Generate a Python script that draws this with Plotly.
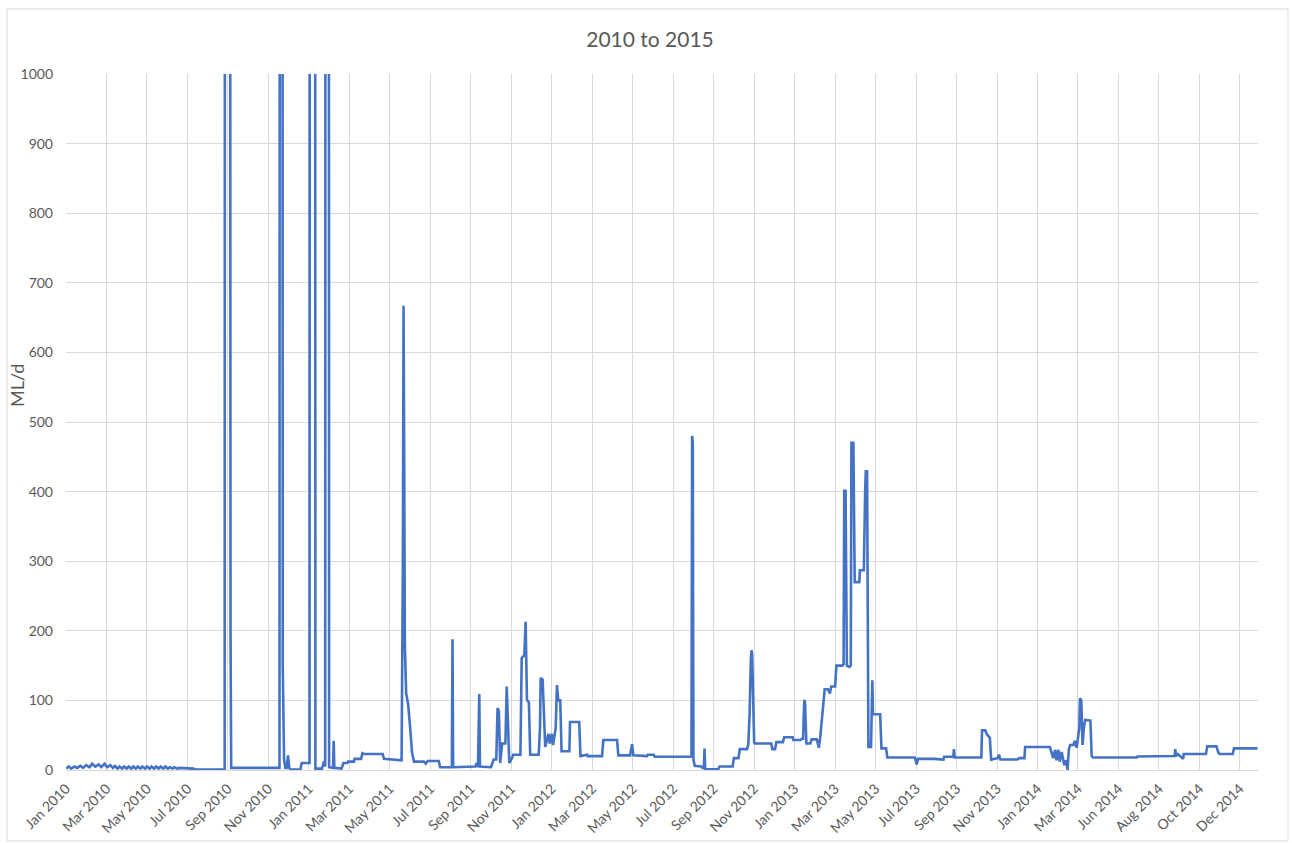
import plotly.graph_objects as go

# Daily flow record (ML/d), stored as the dates where the trace changes.
# Flood peaks above the 1000 ML/d axis limit run off the top of the chart.
dates_2010 = [
    "2010-01-01", "2010-01-05", "2010-01-09", "2010-01-14", "2010-01-18", "2010-01-23",
    "2010-01-27", "2010-02-01", "2010-02-06", "2010-02-10", "2010-02-15", "2010-02-20",
    "2010-02-24", "2010-03-01", "2010-03-05", "2010-03-10", "2010-03-14", "2010-03-17",
    "2010-03-21", "2010-03-24", "2010-03-28", "2010-03-31", "2010-04-04", "2010-04-07",
    "2010-04-11", "2010-04-14", "2010-04-18", "2010-04-21", "2010-04-25", "2010-04-28",
    "2010-05-02", "2010-05-05", "2010-05-09", "2010-05-12", "2010-05-16", "2010-05-19",
    "2010-05-23", "2010-05-26", "2010-05-30", "2010-06-02", "2010-06-06", "2010-06-09",
    "2010-06-13", "2010-06-16", "2010-06-20", "2010-06-23", "2010-07-15", "2010-07-18",
    "2010-09-01", "2010-09-02", "2010-09-08", "2010-09-09", "2010-09-10", "2010-09-11",
    "2010-11-24", "2010-11-25", "2010-11-28", "2010-11-29", "2010-11-30", "2010-12-01",
    "2010-12-03", "2010-12-05", "2010-12-07", "2010-12-09", "2010-12-11", "2010-12-26",
    "2010-12-28",
]
flow_2010 = [
    2, 5, 2, 5, 3, 6,
    3, 7, 4, 9, 5, 8,
    4, 9, 4, 7, 3, 6,
    2, 5, 2, 5, 2, 5,
    2, 5, 2, 5, 2, 5,
    2, 5, 2, 5, 2, 5,
    2, 5, 2, 5, 2, 4,
    2, 4, 2, 3, 2, 0.5,
    0.5, 4000, 4000, 800, 200, 3,
    3, 3500, 3500, 150, 40, 15,
    3, 3, 21, 3, 0.5, 0.5,
    10,
]

dates_2011 = [
    "2011-01-09", "2011-01-10", "2011-01-17", "2011-01-18", "2011-01-28", "2011-01-31",
    "2011-02-02", "2011-02-03", "2011-02-07", "2011-02-08", "2011-02-14", "2011-02-15",
    "2011-02-16", "2011-02-27", "2011-03-02", "2011-03-08", "2011-03-09", "2011-03-18",
    "2011-03-19", "2011-03-29", "2011-03-31", "2011-04-02", "2011-05-01", "2011-05-03",
    "2011-05-27", "2011-05-30", "2011-06-01", "2011-06-02", "2011-06-03", "2011-06-04",
    "2011-06-06", "2011-06-09", "2011-06-12", "2011-06-15", "2011-06-18", "2011-07-03",
    "2011-07-06", "2011-07-09", "2011-07-26", "2011-07-28", "2011-08-15", "2011-08-16",
    "2011-08-17", "2011-09-20", "2011-09-22", "2011-09-24", "2011-09-26", "2011-09-27",
    "2011-10-14", "2011-10-18", "2011-10-22", "2011-10-24", "2011-10-26", "2011-10-28",
    "2011-10-31", "2011-11-05", "2011-11-07", "2011-11-09", "2011-11-11", "2011-11-15",
    "2011-11-17", "2011-11-28", "2011-11-30", "2011-12-04", "2011-12-06", "2011-12-08",
    "2011-12-11", "2011-12-13", "2011-12-26", "2011-12-28", "2011-12-29",
]
flow_2011 = [
    10, 3500, 3500, 2, 2, 12,
    5, 3500, 3500, 4, 3, 42,
    3, 2, 10, 10, 12, 12,
    16, 16, 24, 23, 23, 16,
    14, 14, 300, 667, 450, 180,
    110, 95, 62, 25, 12, 12,
    9, 13, 13, 4, 4, 188,
    4, 5, 10, 4, 109, 5,
    4, 15, 15, 89, 85, 10,
    38, 38, 120, 60, 10, 17,
    22, 22, 161, 165, 213, 101,
    97, 22, 22, 60, 132,
]

dates_2012 = [
    "2012-01-01", "2012-01-03", "2012-01-05", "2012-01-10", "2012-01-12", "2012-01-15",
    "2012-01-17", "2012-01-21", "2012-01-23", "2012-01-25", "2012-01-28", "2012-01-30",
    "2012-02-11", "2012-02-12", "2012-02-26", "2012-02-28", "2012-03-09", "2012-03-10",
    "2012-04-01", "2012-04-03", "2012-04-24", "2012-04-26", "2012-05-14", "2012-05-17",
    "2012-05-19", "2012-06-09", "2012-06-10", "2012-06-19", "2012-06-21", "2012-08-15",
    "2012-08-16", "2012-08-17", "2012-08-18", "2012-08-19", "2012-08-21", "2012-08-31",
    "2012-09-02", "2012-09-04", "2012-09-05", "2012-09-06", "2012-09-26", "2012-09-28",
    "2012-10-18", "2012-10-20", "2012-10-27", "2012-10-29", "2012-11-09", "2012-11-11",
    "2012-11-13", "2012-11-15", "2012-11-16", "2012-11-17", "2012-11-18", "2012-11-20",
    "2012-11-21", "2012-12-16", "2012-12-18", "2012-12-22", "2012-12-24",
]
flow_2012 = [
    130, 92, 33, 52, 38, 52,
    36, 60, 122, 100, 100, 27,
    27, 69, 69, 20, 22, 20,
    20, 43, 43, 21, 21, 37,
    21, 20, 22, 22, 19, 19,
    20, 480, 470, 15, 6, 5,
    3, 3, 31, 1, 1, 5,
    5, 17, 17, 30, 30, 36,
    80, 160, 172, 165, 120, 40,
    38, 38, 30, 30, 40,
]

dates_2013 = [
    "2013-01-03", "2013-01-05", "2013-01-18", "2013-01-19", "2013-01-30", "2013-02-01",
    "2013-02-03", "2013-02-04", "2013-02-05", "2013-02-06", "2013-02-07", "2013-02-08",
    "2013-02-14", "2013-02-16", "2013-02-24", "2013-02-26", "2013-02-27", "2013-03-01",
    "2013-03-04", "2013-03-06", "2013-03-08", "2013-03-13", "2013-03-16", "2013-03-18",
    "2013-03-24", "2013-03-26", "2013-04-04", "2013-04-06", "2013-04-07", "2013-04-09",
    "2013-04-11", "2013-04-15", "2013-04-17", "2013-04-18", "2013-04-21", "2013-04-23",
    "2013-04-30", "2013-05-01", "2013-05-07", "2013-05-09", "2013-05-10", "2013-05-12",
    "2013-05-14", "2013-05-18", "2013-05-20", "2013-05-21", "2013-06-01", "2013-06-03",
    "2013-06-10", "2013-06-12", "2013-07-24", "2013-07-27", "2013-07-29", "2013-08-22",
    "2013-09-06", "2013-09-07", "2013-09-21", "2013-09-22", "2013-09-23", "2013-11-03",
    "2013-11-04", "2013-11-09", "2013-11-11", "2013-11-16", "2013-11-18", "2013-11-28",
    "2013-11-30", "2013-12-02", "2013-12-28", "2013-12-31",
]
flow_2013 = [
    40, 47, 47, 43, 43, 45,
    45, 80, 101, 95, 60, 38,
    38, 44, 44, 32, 32, 45,
    80, 105, 116, 116, 110, 120,
    120, 150, 150, 152, 401, 401,
    150, 148, 150, 470, 470, 270,
    270, 287, 287, 400, 429, 429,
    33, 33, 129, 80, 80, 31,
    31, 18, 18, 8, 16, 16,
    15, 19, 19, 30, 18, 18,
    57, 57, 52, 46, 15, 17,
    22, 15, 15, 17,
]

dates_2014 = [
    "2014-01-08", "2014-01-09", "2014-02-16", "2014-02-21", "2014-02-24", "2014-02-26",
    "2014-03-01", "2014-03-03", "2014-03-06", "2014-03-10", "2014-03-13", "2014-03-15",
    "2014-03-17", "2014-03-19", "2014-03-24", "2014-03-26", "2014-03-29", "2014-04-02",
    "2014-04-03", "2014-04-05", "2014-04-07", "2014-04-09", "2014-04-11", "2014-04-19",
    "2014-04-21", "2014-04-23", "2014-06-29", "2014-06-30", "2014-08-24", "2014-08-26",
    "2014-08-27", "2014-08-28", "2014-08-31", "2014-09-08", "2014-09-09", "2014-10-13",
    "2014-10-15", "2014-10-29", "2014-11-01", "2014-11-03", "2014-11-23", "2014-11-25",
    "2014-12-31",
]
flow_2014 = [
    17, 33, 33, 17, 29, 14,
    29, 12, 26, 7, 14, 0,
    30, 36, 36, 42, 32, 60,
    103, 100, 36, 60, 72, 71,
    20, 18, 18, 19.5, 19.5, 20,
    30, 20, 23, 16, 23, 23,
    34, 34, 25, 23, 23, 31,
    31,
]

# Category-style labels: one every 62 daily records
tick_dates = [
    "2010-01-01", "2010-03-04", "2010-05-05", "2010-07-06", "2010-09-06", "2010-11-07",
    "2011-01-08", "2011-03-11", "2011-05-12", "2011-07-13", "2011-09-13", "2011-11-14",
    "2012-01-15", "2012-03-17", "2012-05-18", "2012-07-19", "2012-09-19", "2012-11-20",
    "2013-01-21", "2013-03-24", "2013-05-25", "2013-07-26", "2013-09-26", "2013-11-27",
    "2014-01-28", "2014-03-31", "2014-06-01", "2014-08-02", "2014-10-03", "2014-12-04",
]
tick_labels = [
    "Jan 2010", "Mar 2010", "May 2010", "Jul 2010", "Sep 2010", "Nov 2010",
    "Jan 2011", "Mar 2011", "May 2011", "Jul 2011", "Sep 2011", "Nov 2011",
    "Jan 2012", "Mar 2012", "May 2012", "Jul 2012", "Sep 2012", "Nov 2012",
    "Jan 2013", "Mar 2013", "May 2013", "Jul 2013", "Sep 2013", "Nov 2013",
    "Jan 2014", "Mar 2014", "Jun 2014", "Aug 2014", "Oct 2014", "Dec 2014",
]
y_ticks = [0, 100, 200, 300, 400, 500, 600, 700, 800, 900, 1000]

dates = dates_2010 + dates_2011 + dates_2012 + dates_2013 + dates_2014
flow = flow_2010 + flow_2011 + flow_2012 + flow_2013 + flow_2014

TEXT = "#595959"
GRID = "#d9d9d9"
FONT = "Lato, 'Open Sans', sans-serif"

fig = go.Figure()
fig.add_trace(go.Scatter(
    x=dates, y=flow, mode="lines",
    line=dict(color="#4472C4", width=2.6),
    showlegend=False, hoverinfo="x+y",
))

W, H = 1292, 843
L, R, T, B = 66, 34, 74, 73
pw, ph = W - L - R, H - T - B


def px_x(x):
    return (x - L) / pw


def px_y(y):
    return (H - B - y) / ph


fig.update_layout(
    width=W, height=H,
    margin=dict(l=L, r=R, t=T, b=B, autoexpand=False),
    paper_bgcolor="white", plot_bgcolor="white",
    font=dict(family=FONT, color=TEXT, size=14),
    title=dict(text="2010 to 2015", x=650 / W, xref="container", xanchor="center",
               y=1 - 40 / H, yref="container", yanchor="middle",
               font=dict(size=21, color=TEXT, family=FONT)),
    xaxis=dict(
        type="date",
        range=["2010-01-01", "2014-12-31 17:00"],
        tickmode="array", tickvals=tick_dates, ticktext=tick_labels,
        tickangle=-45, tickfont=dict(size=14, color=TEXT),
        showgrid=True, gridcolor=GRID, gridwidth=1,
        showline=True, linecolor=GRID, linewidth=1,
        ticks="", zeroline=False, automargin=False,
        ticklabelstandoff=4,
    ),
    yaxis=dict(
        range=[0, 1000], tickvals=y_ticks,
        tickfont=dict(size=14, color=TEXT),
        showgrid=True, gridcolor=GRID, gridwidth=1,
        showline=False, zeroline=False, ticks="",
        automargin=False, ticklabelstandoff=12,
    ),
    annotations=[dict(
        text="ML/d", textangle=-90, showarrow=False,
        xref="paper", yref="paper", x=px_x(17), y=px_y(385),
        xanchor="center", yanchor="middle",
        font=dict(size=18, color=TEXT, family=FONT),
    )],
    shapes=[dict(
        type="rect", xref="paper", yref="paper", layer="below",
        x0=px_x(7), x1=px_x(1288), y0=px_y(841), y1=px_y(9),
        line=dict(color=GRID, width=1), fillcolor="rgba(0,0,0,0)",
    )],
)

fig.write_html("out.html")
